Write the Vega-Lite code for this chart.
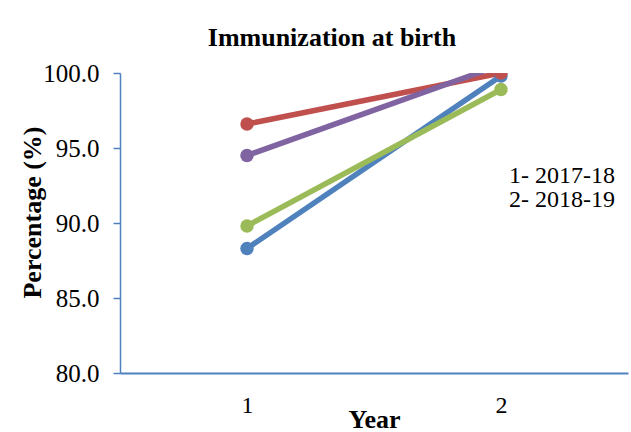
{
  "$schema": "https://vega.github.io/schema/vega-lite/v6.json",
  "width": 508,
  "height": 300,
  "autosize": {"type": "none"},
  "padding": {"left": 120, "top": 73, "right": 3, "bottom": 59},
  "background": "white",
  "config": {
    "view": {"stroke": null},
    "font": "Liberation Serif"
  },
  "title": {
    "text": "Immunization at birth",
    "font": "Liberation Serif",
    "fontSize": 26,
    "fontWeight": "bold",
    "color": "black",
    "anchor": "middle",
    "dx": -42,
    "offset": 10
  },
  "layer": [
    {
      "data": {
        "values": [
          {"series": "A", "year": "1", "value": 88.3},
          {"series": "A", "year": "2", "value": 99.8},
          {"series": "B", "year": "1", "value": 96.6},
          {"series": "B", "year": "2", "value": 100.0},
          {"series": "C", "year": "1", "value": 89.8},
          {"series": "C", "year": "2", "value": 98.9},
          {"series": "D", "year": "1", "value": 94.5},
          {"series": "D", "year": "2", "value": 100.55}
        ]
      },
      "encoding": {
        "color": {
          "field": "series",
          "type": "nominal",
          "scale": {"domain": ["A", "B", "C", "D"], "range": ["#4F81BD", "#C0504D", "#9BBB59", "#8064A2"]},
          "legend": null
        }
      },
      "layer": [
        {
          "mark": {"type": "line", "strokeWidth": 5.5, "clip": true},
          "encoding": {
            "x": {"field": "year", "type": "ordinal"},
            "y": {"field": "value", "type": "quantitative"}
          }
        },
        {
          "mark": {"type": "circle", "size": 180, "opacity": 1, "clip": true},
          "encoding": {
            "x": {"field": "year", "type": "ordinal"},
            "y": {"field": "value", "type": "quantitative"}
          }
        }
      ]
    },
    {
      "data": {
        "values": [
          {"label": "1- 2017-18", "year": "2", "value": 92.7},
          {"label": "2- 2018-19", "year": "2", "value": 91.05}
        ]
      },
      "mark": {"type": "text", "fontSize": 24, "font": "Liberation Serif", "dx": 61, "align": "center", "baseline": "alphabetic", "color": "black"},
      "encoding": {
        "x": {"field": "year", "type": "ordinal"},
        "y": {"field": "value", "type": "quantitative"},
        "text": {"field": "label"}
      }
    }
  ],
  "resolve": {"scale": {"x": "shared", "y": "shared"}},
  "encoding": {
    "x": {
      "field": "year",
      "type": "ordinal",
      "scale": {"type": "point", "padding": 0.5, "domain": ["1", "2"]},
      "axis": {
        "title": "Year",
        "titleFont": "Liberation Serif",
        "titleFontSize": 26,
        "titleFontWeight": "bold",
        "titleColor": "black",
        "titleBaseline": "top",
        "titleY": 33,
        "labelFont": "Liberation Serif",
        "labelFontSize": 24,
        "labelColor": "black",
        "labelAngle": 0,
        "labelPadding": 20,
        "ticks": false,
        "domainColor": "#4F81BD",
        "domainWidth": 2,
        "grid": false
      }
    },
    "y": {
      "field": "value",
      "type": "quantitative",
      "scale": {"domain": [80, 100], "nice": false, "zero": false},
      "axis": {
        "title": "Percentage (%)",
        "titleFont": "Liberation Serif",
        "titleFontSize": 26,
        "titleFontWeight": "bold",
        "titleColor": "black",
        "titleBaseline": "bottom",
        "titleX": -75,
        "titleY": 139,
        "values": [80, 85, 90, 95, 100],
        "format": ".1f",
        "labelFont": "Liberation Serif",
        "labelFontSize": 25,
        "labelColor": "black",
        "labelPadding": 14,
        "tickSize": 7,
        "tickColor": "#4F81BD",
        "tickWidth": 1.5,
        "domainColor": "#4F81BD",
        "domainWidth": 1.5,
        "grid": false
      }
    }
  }
}
